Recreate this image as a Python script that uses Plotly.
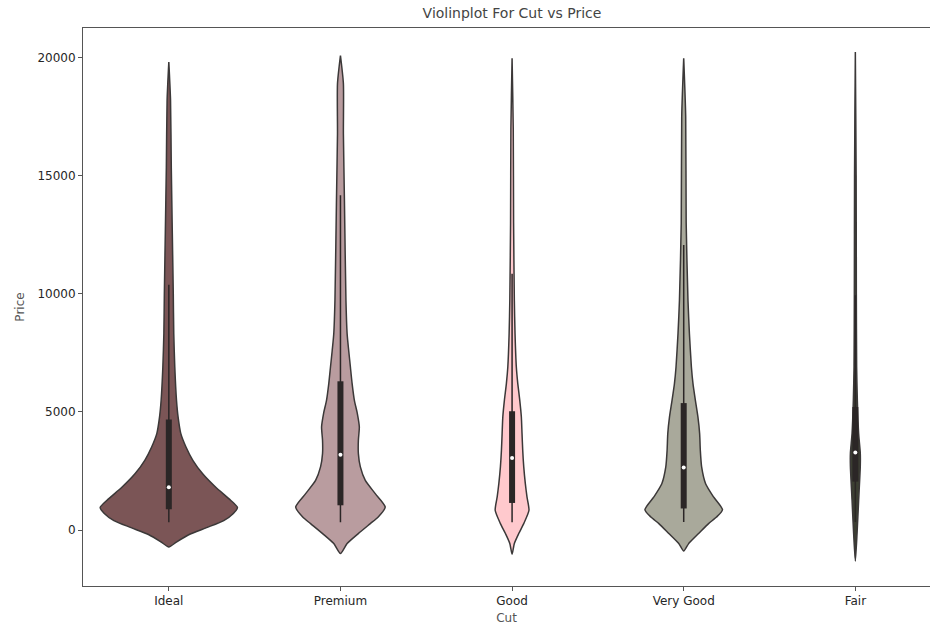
import plotly.graph_objects as go

# Cut categories, in plotting order
cuts = ["Ideal", "Premium", "Good", "Very Good", "Fair"]

# Kernel-density outlines: price levels and relative density (1.0 = widest violin)
ideal_price = [-720, -500, -200, 100, 400, 700, 950, 1260, 1820, 2390, 2950, 3515,
               4090, 4785, 5490, 6900, 8330, 10020, 12560, 15360, 18200, 19815]
ideal_dens = [0, 0.116, 0.29, 0.55, 0.80, 0.94, 1.0, 0.90, 0.68, 0.49, 0.35, 0.25,
              0.174, 0.135, 0.112, 0.087, 0.072, 0.065, 0.051, 0.036, 0.025, 0]

premium_price = [-1000, -576, -153, 270, 550, 975, 1540, 2100, 2670, 3235, 3800, 4360,
                 4930, 5490, 6200, 6900, 7600, 8320, 9725, 13950, 16780, 18900, 20090]
premium_dens = [0, 0.097, 0.26, 0.435, 0.55, 0.652, 0.507, 0.362, 0.29, 0.261, 0.261, 0.275,
                0.246, 0.203, 0.17, 0.145, 0.12, 0.097, 0.08, 0.058, 0.043, 0.043, 0]

good_price = [-1030, -570, -150, 270, 835, 1400, 1960, 2670, 3375, 4080, 4785, 5490,
              6200, 6900, 8320, 9725, 13000, 17000, 19970]
good_dens = [0, 0.033, 0.097, 0.17, 0.246, 0.217, 0.193, 0.17, 0.155, 0.145, 0.135, 0.112,
             0.083, 0.062, 0.043, 0.033, 0.022, 0.017, 0]

verygood_price = [-890, -576, -150, 270, 550, 860, 1400, 1960, 2670, 3375, 4080, 4785,
                  5490, 6200, 6900, 8320, 9725, 13000, 17500, 19970]
verygood_dens = [0, 0.072, 0.217, 0.362, 0.478, 0.565, 0.435, 0.319, 0.261, 0.242, 0.232, 0.207,
                 0.17, 0.135, 0.112, 0.083, 0.062, 0.036, 0.029, 0]

fair_price = [-1310, -140, 1257, 2700, 3250, 4080, 5490, 6900, 10000, 15000, 20240]
fair_dens = [0, 0.025, 0.048, 0.072, 0.072, 0.048, 0.029, 0.019, 0.0145, 0.0116, 0]

# Box statistics per cut: lower whisker, Q1, median, Q3, upper whisker
whisker_low = [326, 326, 327, 336, 337]
q1 = [878, 1046, 1145, 912, 2050]
median = [1810, 3185, 3050, 2648, 3282]
q3 = [4678, 6296, 5028, 5373, 5206]
whisker_high = [10380, 14171, 10852, 12064, 9938]

# Price axis ticks
price_ticks = [0, 5000, 10000, 15000, 20000]
price_tick_labels = ["0", "5000", "10000", "15000", "20000"]

profiles = [
    (ideal_price, ideal_dens),
    (premium_price, premium_dens),
    (good_price, good_dens),
    (verygood_price, verygood_dens),
    (fair_price, fair_dens),
]

fills = ["#7b5556", "#b99c9f", "#ffc9cd", "#a9a99b", "#3c3f32"]
outline = "#3b3838"
box_color = "#2b2626"
half_width = 0.4

fig = go.Figure()

for i, (price, dens) in enumerate(profiles):
    right_x = [i + half_width * d for d in dens]
    left_x = [i - half_width * d for d in reversed(dens)]
    xs = right_x + left_x
    ys = list(price) + list(reversed(price))
    fig.add_trace(go.Scatter(
        x=xs, y=ys, mode="lines", fill="toself", fillcolor=fills[i],
        line=dict(color=outline, width=1.5, shape="spline", smoothing=0.6),
        showlegend=False, hoverinfo="skip",
    ))
    fig.add_trace(go.Scatter(
        x=[i, i], y=[whisker_low[i], whisker_high[i]], mode="lines",
        line=dict(color=box_color, width=1.5), showlegend=False, hoverinfo="skip",
    ))
    fig.add_trace(go.Scatter(
        x=[i, i], y=[q1[i], q3[i]], mode="lines",
        line=dict(color=box_color, width=6), showlegend=False, hoverinfo="skip",
    ))
    fig.add_trace(go.Scatter(
        x=[i], y=[median[i]], mode="markers",
        marker=dict(color="white", size=4, line=dict(width=0)),
        showlegend=False, hoverinfo="skip",
    ))

font_family = "DejaVu Sans"
label_color = "#555555"
tick_color = "#262626"

fig.update_layout(
    template="none",
    width=930, height=627,
    margin=dict(l=83, r=0, t=28, b=41),
    paper_bgcolor="white", plot_bgcolor="white",
    font=dict(family=font_family, size=12, color=tick_color),
    title=dict(text="Violinplot For Cut vs Price", x=(83 + 941) / 2 / 930, xanchor="center",
               y=1 - 13 / 627, yanchor="middle",
               font=dict(family=font_family, size=14, color="#444444")),
    xaxis=dict(
        range=[-0.5, 4.435], tickvals=list(range(len(cuts))), ticktext=cuts,
        showgrid=False, zeroline=False, showline=True, mirror=True,
        linecolor="#555555", linewidth=1, ticks="outside", ticklen=4, tickwidth=1,
        tickcolor="#555555", tickfont=dict(family=font_family, size=12, color=tick_color),
        title=dict(text="Cut", standoff=6,
                   font=dict(family=font_family, size=12, color=label_color)),
    ),
    yaxis=dict(
        range=[-2371, 21253], tickvals=price_ticks, ticktext=price_tick_labels,
        showgrid=False, zeroline=False, showline=True, mirror=False,
        linecolor="#555555", linewidth=1, ticks="outside", ticklen=4, tickwidth=1,
        tickcolor="#555555", tickfont=dict(family=font_family, size=12, color=tick_color),
        title=dict(text="Price", standoff=10,
                   font=dict(family=font_family, size=12, color=label_color)),
    ),
)

fig.write_html("out.html")
